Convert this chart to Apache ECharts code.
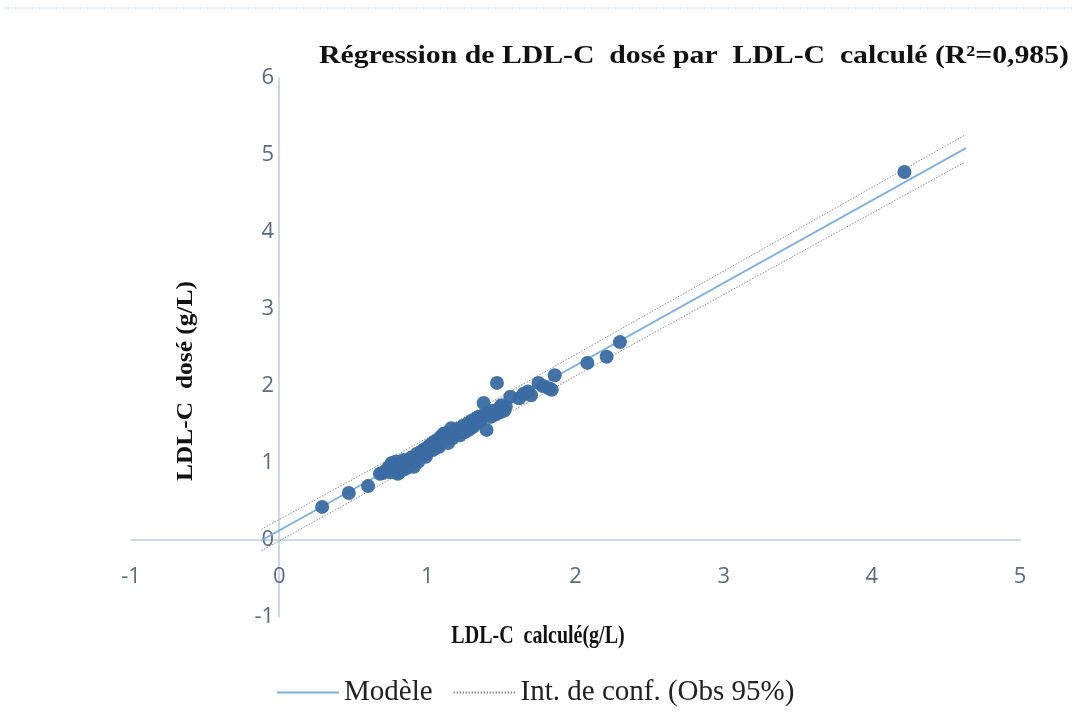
<!DOCTYPE html>
<html>
<head>
<meta charset="utf-8">
<script src="https://cdn.jsdelivr.net/npm/echarts@6/dist/echarts.min.js"></script>
<style>html,body{margin:0;padding:0;background:#fff}#c{width:1073px;height:715px}</style>
</head>
<body>
<div id="c"></div>
<script>
// Observed points: [LDL-C calculé, LDL-C dosé]
const observations = [
  [0.29,0.43],[0.47,0.61],[0.60,0.70],[0.68,0.86],
  [0.70,0.87],[0.72,0.90],[0.74,0.95],[0.75,0.88],[0.76,1.00],[0.77,0.97],[0.78,0.92],
  [0.79,1.02],[0.80,0.95],[0.80,0.86],[0.81,0.88],[0.82,1.00],[0.83,0.96],[0.84,1.04],
  [0.85,0.92],[0.86,0.98],[0.87,1.03],[0.88,0.95],[0.89,1.07],[0.90,1.00],[0.91,0.95],
  [0.92,1.05],[0.93,1.12],[0.94,1.02],[0.95,1.08],[0.96,1.15],[0.97,1.10],[0.98,1.18],
  [0.99,1.08],[1.00,1.14],[1.01,1.22],[1.02,1.20],[1.03,1.25],[1.04,1.17],[1.05,1.28],
  [1.06,1.24],[1.07,1.30],[1.08,1.21],[1.09,1.34],[1.10,1.27],[1.11,1.38],
  [1.12,1.31],[1.13,1.39],[1.14,1.26],[1.15,1.35],[1.16,1.45],[1.17,1.32],[1.18,1.40],
  [1.19,1.37],[1.20,1.44],[1.22,1.36],[1.23,1.42],[1.24,1.48],[1.25,1.40],
  [1.26,1.45],[1.27,1.51],[1.28,1.43],[1.29,1.50],[1.30,1.55],[1.31,1.47],
  [1.32,1.53],[1.33,1.58],[1.34,1.52],[1.35,1.60],[1.36,1.55],[1.38,1.62],
  [1.38,1.78],[1.40,1.43],[1.41,1.65],[1.43,1.60],[1.44,1.68],[1.46,1.63],
  [1.47,2.04],[1.48,1.70],[1.49,1.66],[1.50,1.75],[1.52,1.68],[1.53,1.73],
  [1.56,1.86],[1.62,1.84],[1.65,1.90],[1.68,1.93],[1.70,1.88],[1.75,2.04],
  [1.78,2.00],[1.82,1.97],[1.84,1.95],[1.86,2.14],[2.08,2.30],[2.21,2.38],
  [2.30,2.57],[4.22,4.78]
];
// Regression model line (read endpoints)
const modelLine = [[-0.115,0.0],[4.635,5.09]];
const ciUpper = [[-0.12,0.14],[0.5,0.79],[1.2,1.54],[2.5,2.95],[4.63,5.26]];
const ciLower = [[-0.12,-0.14],[0.5,0.52],[1.2,1.28],[2.5,2.66],[4.63,4.91]];
const xTicks = {min:-1, max:5, interval:1};
const yTicks = {min:-1, max:6, interval:1};

const chart = echarts.init(document.getElementById('c'), null, {renderer:'canvas'});
const serif = '"Liberation Serif","Times New Roman",serif';
const sans = '"Open Sans","Noto Sans",sans-serif';
const axisColor = '#B9CBE2';
const labelColor = '#5D6B80';
const gridLeft = 131, gridRight = 53, gridTop = 78, gridBottom = 98;
const plotW = 1073 - gridLeft - gridRight, plotH = 715 - gridTop - gridBottom;
// shift the axes so they cross at the origin, labels included
const xAxisOffset = -plotH * (0 - yTicks.min) / (yTicks.max - yTicks.min);
const yAxisOffset = -plotW * (0 - xTicks.min) / (xTicks.max - xTicks.min);
chart.setOption({
  animation:false,
  backgroundColor:'#fff',
  legend:{
    data:['Modèle','Int. de conf. (Obs 95%)'],
    left:271, top:673,
    itemWidth:62, itemHeight:14, itemGap:20,
    itemStyle:{opacity:0},
    textStyle:{fontFamily:serif, fontSize:29, color:'#222'}
  },
  grid:{left:gridLeft, right:gridRight, top:gridTop, bottom:gridBottom},
  xAxis:{
    type:'value', min:xTicks.min, max:xTicks.max, interval:xTicks.interval,
    position:'bottom', offset:xAxisOffset,
    axisLine:{onZero:false, lineStyle:{color:axisColor, width:1.5}},
    axisTick:{show:false},
    splitLine:{show:false},
    axisLabel:{color:labelColor, fontFamily:sans, fontSize:22, margin:26}
  },
  yAxis:{
    type:'value', min:yTicks.min, max:yTicks.max, interval:yTicks.interval,
    position:'left', offset:yAxisOffset,
    axisLine:{show:true, onZero:false, lineStyle:{color:axisColor, width:1.5}},
    axisTick:{show:false},
    splitLine:{show:false},
    axisLabel:{color:labelColor, fontFamily:sans, fontSize:22, margin:5}
  },
  graphic:[
    {type:'line', shape:{x1:5,y1:8,x2:1073,y2:8}, style:{stroke:'#C9D6E6', lineWidth:1, lineDash:[2,1]}},
    {type:'text', x:694, y:57, scaleX:1.19,
      style:{text:'Régression de LDL-C  dosé par  LDL-C  calculé (R²=0,985)', font:'bold 25px '+serif, fill:'#111', textAlign:'center', textVerticalAlign:'middle'}},
    {type:'text', x:538, y:637, scaleX:0.8,
      style:{text:'LDL-C  calculé(g/L)', font:'bold 25px '+serif, fill:'#111', textAlign:'center', textVerticalAlign:'middle'}},
    {type:'text', rotation:Math.PI/2, x:186, y:381, scaleX:1.06,
      style:{text:'LDL-C  dosé (g/L)', font:'bold 24px '+serif, fill:'#111', textAlign:'center', textVerticalAlign:'middle'}}
  ],
  series:[
    {name:'Int. de conf. (Obs 95%)', type:'line', data:ciUpper, symbol:'none', z:2,
      lineStyle:{color:'#8C8C8C', width:1, type:[1.5,1.5]}, itemStyle:{color:'#8C8C8C'}},
    {name:'Int. de conf. (Obs 95%)', type:'line', data:ciLower, symbol:'none', z:2,
      lineStyle:{color:'#8C8C8C', width:1, type:[1.5,1.5]}, itemStyle:{color:'#8C8C8C'}},
    {name:'Modèle', type:'line', data:modelLine, symbol:'none', z:3,
      lineStyle:{color:'#82B1DE', width:2}, itemStyle:{color:'#82B1DE'}},
    {name:'Obs', type:'scatter', data:observations, symbolSize:14, z:4,
      itemStyle:{color:'#3A6BA3', opacity:0.95}}
  ]
});
</script>
</body>
</html>
